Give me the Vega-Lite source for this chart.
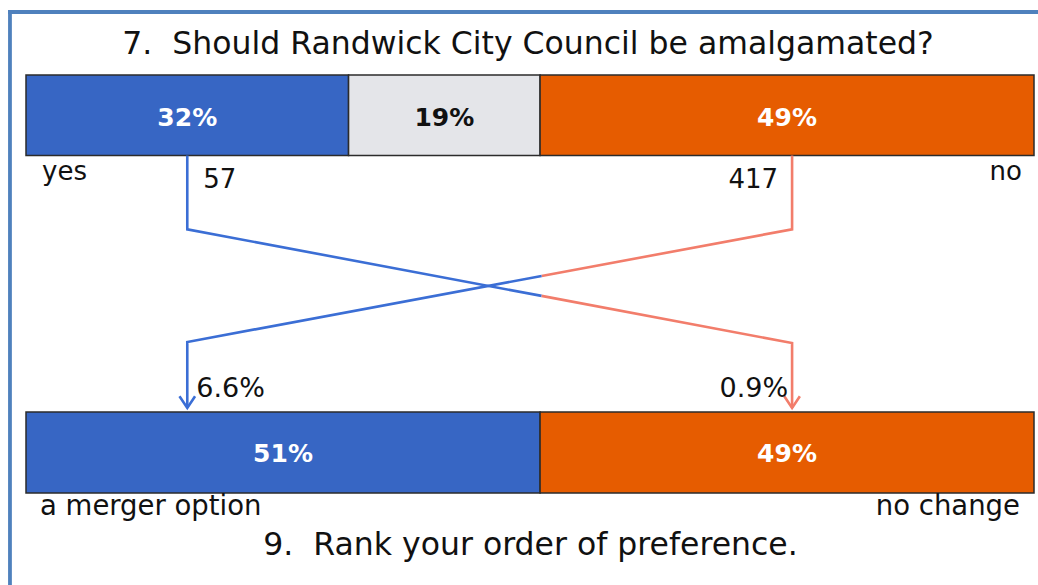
{
  "$schema": "https://vega.github.io/schema/vega-lite/v6.json",
  "width": 1008,
  "height": 585,
  "autosize": "none",
  "padding": {"left": 26, "right": 4, "top": 0, "bottom": 0},
  "background": "#ffffff",
  "config": {"view": {"stroke": null}, "text": {"font": "DejaVu Sans", "color": "#111111"}},
  "datasets": {
    "q7": [
      {"answer": "yes", "share": 0.32, "idx": 1},
      {"answer": "undecided", "share": 0.19, "idx": 2},
      {"answer": "no", "share": 0.49, "idx": 3}
    ],
    "q9": [
      {"answer": "a merger option", "share": 0.51, "idx": 1},
      {"answer": "no change", "share": 0.49, "idx": 2}
    ],
    "flows": [
      {"from": "yes", "to": "no change", "count": 57, "share": 0.009},
      {"from": "no", "to": "a merger option", "count": 417, "share": 0.066}
    ],
    "links": [
      {"flow": "yes to no change", "part": "yes", "step": 0, "x": 0.16, "y": 26.58},
      {"flow": "yes to no change", "part": "yes", "step": 1, "x": 0.16, "y": 39.2},
      {"flow": "yes to no change", "part": "yes", "step": 2, "x": 0.5115, "y": 50.58},
      {"flow": "yes to no change", "part": "no change", "step": 3, "x": 0.5115, "y": 50.58},
      {"flow": "yes to no change", "part": "no change", "step": 4, "x": 0.76, "y": 58.63},
      {"flow": "yes to no change", "part": "no change", "step": 5, "x": 0.76, "y": 69.74},
      {"flow": "no to a merger option", "part": "no", "step": 0, "x": 0.76, "y": 26.58},
      {"flow": "no to a merger option", "part": "no", "step": 1, "x": 0.76, "y": 39.2},
      {"flow": "no to a merger option", "part": "no", "step": 2, "x": 0.5115, "y": 47.18},
      {"flow": "no to a merger option", "part": "a merger option", "step": 3, "x": 0.5115, "y": 47.18},
      {"flow": "no to a merger option", "part": "a merger option", "step": 4, "x": 0.16, "y": 58.46},
      {"flow": "no to a merger option", "part": "a merger option", "step": 5, "x": 0.16, "y": 69.74}
    ],
    "titles": [
      {"question": "q7", "title": "7.\u00a0 Should Randwick City Council be amalgamated?"},
      {"question": "q9", "title": "9.\u00a0 Rank your order of preference."}
    ]
  },
  "layer": [
    {
      "data": {"values": [{"edge": "left"}]},
      "mark": {"type": "rule", "color": "#4F81BD", "strokeWidth": 3.8, "strokeCap": "square"},
      "encoding": {
        "x": {"datum": -0.0159, "type": "quantitative", "scale": {"domain": [0, 1]}, "axis": null},
        "y": {"datum": 2.05, "type": "quantitative", "scale": {"domain": [0, 100], "reverse": true}, "axis": null},
        "y2": {"datum": 100}
      }
    },
    {
      "data": {"values": [{"edge": "top"}]},
      "mark": {"type": "rule", "color": "#4F81BD", "strokeWidth": 3.8, "strokeCap": "square"},
      "encoding": {
        "x": {"datum": -0.0159, "type": "quantitative", "scale": {"domain": [0, 1]}, "axis": null},
        "x2": {"datum": 1.01},
        "y": {"datum": 2.05, "type": "quantitative", "scale": {"domain": [0, 100], "reverse": true}, "axis": null}
      }
    },
    {
      "data": {"name": "q7"},
      "transform": [{"stack": "share", "groupby": [], "sort": [{"field": "idx", "order": "ascending"}], "as": ["s0", "s1"]}],
      "mark": {"type": "rect", "stroke": "#2b2b2b", "strokeWidth": 1.5},
      "encoding": {
        "x": {"field": "s0", "type": "quantitative", "scale": {"domain": [0, 1]}, "axis": null},
        "x2": {"field": "s1"},
        "y": {"datum": 12.82, "type": "quantitative", "scale": {"domain": [0, 100], "reverse": true}, "axis": null},
        "y2": {"datum": 26.58},
        "fill": {"field": "answer", "type": "nominal", "scale": {"domain": ["yes", "undecided", "no", "a merger option", "no change"], "range": ["#3766C4", "#E4E5E9", "#E65C00", "#3766C4", "#E65C00"]}, "legend": null}
      }
    },
    {
      "data": {"name": "q9"},
      "transform": [{"stack": "share", "groupby": [], "sort": [{"field": "idx", "order": "ascending"}], "as": ["s0", "s1"]}],
      "mark": {"type": "rect", "stroke": "#2b2b2b", "strokeWidth": 1.5},
      "encoding": {
        "x": {"field": "s0", "type": "quantitative", "scale": {"domain": [0, 1]}, "axis": null},
        "x2": {"field": "s1"},
        "y": {"datum": 70.43, "type": "quantitative", "scale": {"domain": [0, 100], "reverse": true}, "axis": null},
        "y2": {"datum": 84.27},
        "fill": {"field": "answer", "type": "nominal", "legend": null}
      }
    },
    {
      "data": {"name": "q7"},
      "mark": {"type": "text", "fontWeight": "bold", "fontSize": 25, "baseline": "alphabetic", "align": "center"},
      "encoding": {
        "x": {"field": "share", "type": "quantitative", "stack": "zero", "bandPosition": 0.5, "scale": {"domain": [0, 1]}, "axis": null},
        "order": {"field": "idx"},
        "detail": {"field": "answer"},
        "y": {"datum": 21.62, "type": "quantitative", "scale": {"domain": [0, 100], "reverse": true}, "axis": null},
        "text": {"field": "share", "type": "quantitative", "format": ".0%"},
        "color": {"field": "answer", "type": "nominal", "scale": {"domain": ["yes", "undecided", "no", "a merger option", "no change"], "range": ["#ffffff", "#111111", "#ffffff", "#ffffff", "#ffffff"]}, "legend": null}
      }
    },
    {
      "data": {"name": "q9"},
      "mark": {"type": "text", "fontWeight": "bold", "fontSize": 25, "baseline": "alphabetic", "align": "center"},
      "encoding": {
        "x": {"field": "share", "type": "quantitative", "stack": "zero", "bandPosition": 0.5, "scale": {"domain": [0, 1]}, "axis": null},
        "order": {"field": "idx"},
        "detail": {"field": "answer"},
        "y": {"datum": 78.89, "type": "quantitative", "scale": {"domain": [0, 100], "reverse": true}, "axis": null},
        "text": {"field": "share", "type": "quantitative", "format": ".0%"},
        "color": {"field": "answer", "type": "nominal", "legend": null}
      }
    },
    {
      "data": {"name": "links"},
      "mark": {"type": "line", "strokeWidth": 2.6, "strokeJoin": "miter", "strokeCap": "butt"},
      "encoding": {
        "x": {"field": "x", "type": "quantitative", "scale": {"domain": [0, 1]}, "axis": null},
        "y": {"field": "y", "type": "quantitative", "scale": {"domain": [0, 100], "reverse": true}, "axis": null},
        "order": {"field": "step"},
        "stroke": {"field": "part", "type": "nominal", "scale": {"domain": ["yes", "a merger option", "no", "no change"], "range": ["#3B6ED5", "#3B6ED5", "#F27D6B", "#F27D6B"]}, "legend": null}
      }
    },
    {
      "data": {"name": "links"},
      "transform": [{"filter": "datum.step == 5"}],
      "mark": {"type": "point", "shape": "M-1,-1.5L0,0L1,-1.5", "size": 243, "filled": false, "strokeWidth": 2.6, "opacity": 1},
      "encoding": {
        "x": {"field": "x", "type": "quantitative", "scale": {"domain": [0, 1]}, "axis": null},
        "y": {"field": "y", "type": "quantitative", "scale": {"domain": [0, 100], "reverse": true}, "axis": null},
        "stroke": {"field": "part", "type": "nominal", "legend": null}
      }
    },
    {
      "data": {"name": "titles"},
      "transform": [{"filter": "datum.question == 'q7'"}],
      "mark": {"type": "text", "fontSize": 31.5, "baseline": "alphabetic", "align": "center"},
      "encoding": {
        "x": {"datum": 0.498, "type": "quantitative", "scale": {"domain": [0, 1]}, "axis": null},
        "y": {"datum": 9.23, "type": "quantitative", "scale": {"domain": [0, 100], "reverse": true}, "axis": null},
        "text": {"field": "title"}
      }
    },
    {
      "data": {"name": "titles"},
      "transform": [{"filter": "datum.question == 'q9'"}],
      "mark": {"type": "text", "fontSize": 31.5, "baseline": "alphabetic", "align": "center"},
      "encoding": {
        "x": {"datum": 0.5005, "type": "quantitative", "scale": {"domain": [0, 1]}, "axis": null},
        "y": {"datum": 94.87, "type": "quantitative", "scale": {"domain": [0, 100], "reverse": true}, "axis": null},
        "text": {"field": "title"}
      }
    },
    {
      "data": {"name": "q7"},
      "transform": [{"filter": "datum.answer == 'yes'"}],
      "mark": {"type": "text", "fontSize": 26, "baseline": "alphabetic", "align": "left", "dx": 16},
      "encoding": {
        "x": {"datum": 0, "type": "quantitative", "scale": {"domain": [0, 1]}, "axis": null},
        "y": {"datum": 30.77, "type": "quantitative", "scale": {"domain": [0, 100], "reverse": true}, "axis": null},
        "text": {"field": "answer"}
      }
    },
    {
      "data": {"name": "q7"},
      "transform": [{"filter": "datum.answer == 'no'"}],
      "mark": {"type": "text", "fontSize": 26, "baseline": "alphabetic", "align": "right", "dx": -12},
      "encoding": {
        "x": {"datum": 1, "type": "quantitative", "scale": {"domain": [0, 1]}, "axis": null},
        "y": {"datum": 30.77, "type": "quantitative", "scale": {"domain": [0, 100], "reverse": true}, "axis": null},
        "text": {"field": "answer"}
      }
    },
    {
      "data": {"name": "q9"},
      "transform": [{"filter": "datum.answer == 'a merger option'"}],
      "mark": {"type": "text", "fontSize": 27.5, "baseline": "alphabetic", "align": "left", "dx": 14},
      "encoding": {
        "x": {"datum": 0, "type": "quantitative", "scale": {"domain": [0, 1]}, "axis": null},
        "y": {"datum": 88.03, "type": "quantitative", "scale": {"domain": [0, 100], "reverse": true}, "axis": null},
        "text": {"field": "answer"}
      }
    },
    {
      "data": {"name": "q9"},
      "transform": [{"filter": "datum.answer == 'no change'"}],
      "mark": {"type": "text", "fontSize": 27.5, "baseline": "alphabetic", "align": "right", "dx": -14},
      "encoding": {
        "x": {"datum": 1, "type": "quantitative", "scale": {"domain": [0, 1]}, "axis": null},
        "y": {"datum": 88.03, "type": "quantitative", "scale": {"domain": [0, 100], "reverse": true}, "axis": null},
        "text": {"field": "answer"}
      }
    },
    {
      "data": {"name": "flows"},
      "transform": [{"filter": "datum.from == 'yes'"}],
      "mark": {"type": "text", "fontSize": 26, "baseline": "alphabetic", "align": "left", "dx": 16},
      "encoding": {
        "x": {"datum": 0.16, "type": "quantitative", "scale": {"domain": [0, 1]}, "axis": null},
        "y": {"datum": 32.22, "type": "quantitative", "scale": {"domain": [0, 100], "reverse": true}, "axis": null},
        "text": {"field": "count", "type": "quantitative"}
      }
    },
    {
      "data": {"name": "flows"},
      "transform": [{"filter": "datum.from == 'no'"}],
      "mark": {"type": "text", "fontSize": 26, "baseline": "alphabetic", "align": "right", "dx": -14},
      "encoding": {
        "x": {"datum": 0.76, "type": "quantitative", "scale": {"domain": [0, 1]}, "axis": null},
        "y": {"datum": 32.22, "type": "quantitative", "scale": {"domain": [0, 100], "reverse": true}, "axis": null},
        "text": {"field": "count", "type": "quantitative"}
      }
    },
    {
      "data": {"name": "flows"},
      "transform": [{"filter": "datum.to == 'a merger option'"}],
      "mark": {"type": "text", "fontSize": 27, "baseline": "alphabetic", "align": "left", "dx": 9},
      "encoding": {
        "x": {"datum": 0.16, "type": "quantitative", "scale": {"domain": [0, 1]}, "axis": null},
        "y": {"datum": 67.78, "type": "quantitative", "scale": {"domain": [0, 100], "reverse": true}, "axis": null},
        "text": {"field": "share", "type": "quantitative", "format": ".1%"}
      }
    },
    {
      "data": {"name": "flows"},
      "transform": [{"filter": "datum.to == 'no change'"}],
      "mark": {"type": "text", "fontSize": 27, "baseline": "alphabetic", "align": "right", "dx": -4},
      "encoding": {
        "x": {"datum": 0.76, "type": "quantitative", "scale": {"domain": [0, 1]}, "axis": null},
        "y": {"datum": 67.78, "type": "quantitative", "scale": {"domain": [0, 100], "reverse": true}, "axis": null},
        "text": {"field": "share", "type": "quantitative", "format": ".1%"}
      }
    }
  ]
}
